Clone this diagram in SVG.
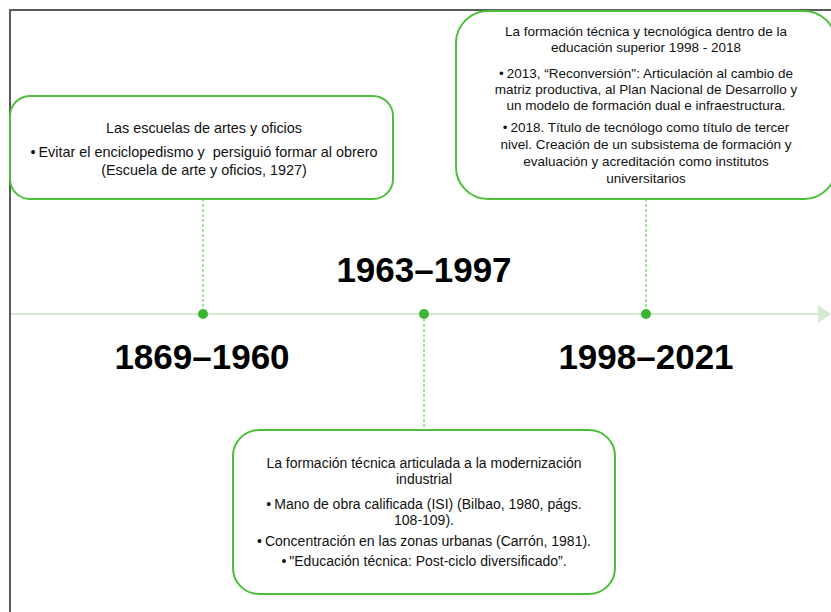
<svg xmlns="http://www.w3.org/2000/svg" width="831" height="612" viewBox="0 0 831 612">
<style>
.frame{stroke:#5a5a5a;stroke-width:2;fill:none}
.box{fill:#fff;stroke:#4cbe3a;stroke-width:2}
.dash{stroke:#4cbe3a;stroke-width:1;stroke-dasharray:3,2;fill:none}
.axis{stroke:#d4e9d0;stroke-width:2;fill:none}
.dot{fill:#3db534}
.t{font-family:"Liberation Sans",Arial,sans-serif;font-size:13.5px;fill:#111;text-anchor:middle;white-space:pre}
.t1{font-size:14.4px}
.t3{font-size:14px}
.big{font-family:"Liberation Sans",Arial,sans-serif;font-size:35px;font-weight:bold;fill:#000;text-anchor:middle}
</style>
<rect width="831" height="612" fill="#fff"/>
<g id="frame">
<path class="frame" d="M10,612 V10 H831"/>
</g>
<g id="timeline">
<line class="axis" x1="11" y1="314" x2="818" y2="314"/>
<polygon points="818,305 831,314 818,323" fill="#d4e9d0"/>
</g>
<g id="connectors">
<line class="dash" x1="203" y1="199" x2="203" y2="314"/>
<line class="dash" x1="646" y1="199" x2="646" y2="314"/>
<line class="dash" x1="424" y1="314" x2="424" y2="430"/>
</g>
<g id="dots">
<circle class="dot" cx="203" cy="314" r="5"/>
<circle class="dot" cx="424" cy="314" r="5"/>
<circle class="dot" cx="646" cy="314" r="5"/>
</g>
<g id="node1">
<rect class="box" x="10" y="96" width="383" height="103" rx="20"/>
<text class="t t1" x="204" y="133">Las escuelas de artes y oficios</text>
<text class="t t1" x="204" y="157">•<tspan dx="3">Evitar el enciclopedismo y  persiguió formar al obrero</tspan></text>
<text class="t t1" x="204" y="175">(Escuela de arte y oficios, 1927)</text>
</g>
<g id="node2">
<rect class="box" x="456" y="11" width="380" height="188" rx="32"/>
<text class="t" x="646" y="36">La formación técnica y tecnológica dentro de la</text>
<text class="t" x="646" y="52">educación superior 1998 - 2018</text>
<text class="t" x="646" y="78">•<tspan dx="3">2013, “Reconversión": Articulación al cambio de</tspan></text>
<text class="t" x="646" y="94">matriz productiva, al Plan Nacional de Desarrollo y</text>
<text class="t" x="646" y="110">un modelo de formación dual e infraestructura.</text>
<text class="t" x="646" y="132">•<tspan dx="3">2018. Título de tecnólogo como título de tercer</tspan></text>
<text class="t" x="646" y="149">nivel. Creación de un subsistema de formación y</text>
<text class="t" x="646" y="166">evaluación y acreditación como institutos</text>
<text class="t" x="646" y="183">universitarios</text>
</g>
<g id="node3">
<rect class="box" x="233" y="430" width="382" height="164" rx="26"/>
<text class="t t3" x="424" y="468">La formación técnica articulada a la modernización</text>
<text class="t t3" x="424" y="484">industrial</text>
<text class="t t3" x="424" y="509">•<tspan dx="3">Mano de obra calificada (ISI) (Bilbao, 1980, págs.</tspan></text>
<text class="t t3" x="424" y="525">108-109).</text>
<text class="t t3" x="424" y="546">•<tspan dx="3">Concentración en las zonas urbanas (Carrón, 1981).</tspan></text>
<text class="t t3" x="424" y="566">•<tspan dx="3">"Educación técnica: Post-ciclo diversificado”.</tspan></text>
</g>
<g id="labels">
<text class="big" x="202" y="369">1869–1960</text>
<text class="big" x="424" y="282">1963–1997</text>
<text class="big" x="646" y="369">1998–2021</text>
</g>
</svg>
